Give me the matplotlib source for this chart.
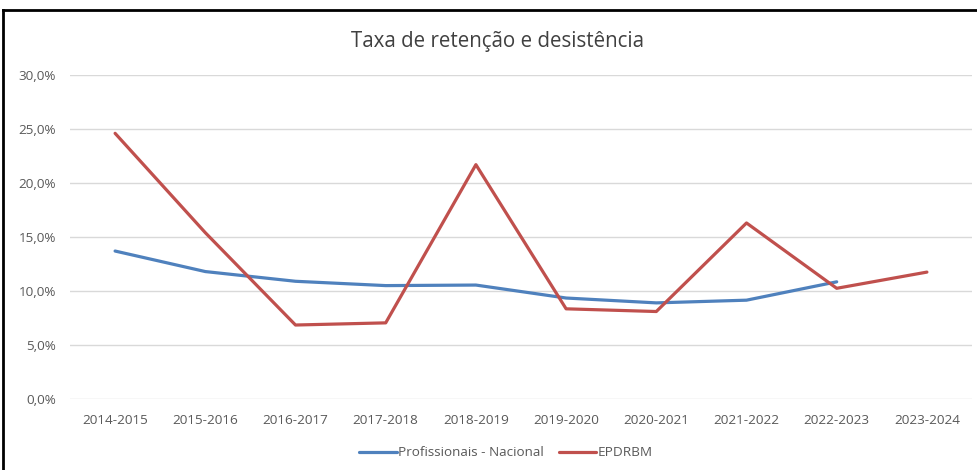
import matplotlib.pyplot as plt
from matplotlib.ticker import FuncFormatter

anos = ['2014-2015', '2015-2016', '2016-2017', '2017-2018', '2018-2019',
        '2019-2020', '2020-2021', '2021-2022', '2022-2023', '2023-2024']
nacional = [13.7, 11.8, 10.9, 10.5, 10.55, 9.35, 8.9, 9.15, 10.85]
epdrbm = [24.6, 15.4, 6.85, 7.05, 21.7, 8.35, 8.1, 16.3, 10.25, 11.75]

plt.rcParams['font.family'] = ['Open Sans', 'DejaVu Sans']

fig = plt.figure(figsize=(9.78, 4.70), dpi=100)
ax = fig.add_axes([70/978, 1 - 399/470, 902/978, 324/470])

x = list(range(len(anos)))
ax.plot(x[:len(nacional)], [v / 100 for v in nacional], color='#4F81BD', lw=2.3,
        label='Profissionais - Nacional', solid_capstyle='round')
ax.plot(x, [v / 100 for v in epdrbm], color='#C0504D', lw=2.3,
        label='EPDRBM', solid_capstyle='round')

ax.set_xlim(-0.5, len(anos) - 0.5)
ax.set_ylim(0, 0.30)
ax.set_yticks([0, 0.05, 0.10, 0.15, 0.20, 0.25, 0.30])
ax.yaxis.set_major_formatter(FuncFormatter(lambda v, p: f'{v*100:.1f}%'.replace('.', ',')))
ax.set_xticks(x)
ax.set_xticklabels(anos)
ax.tick_params(length=0, labelsize=9.7, colors='#595959')
ax.tick_params(axis='x', pad=11)
ax.tick_params(axis='y', pad=10)
ax.grid(axis='y', color='#D9D9D9', lw=1)
ax.set_axisbelow(True)
for s in ax.spines.values():
    s.set_visible(False)

fig.text(498/978, 1 - 41/470, 'Taxa de retenção e desistência', ha='center', va='center',
         fontsize=14.8, color='#404040')

fig.legend(loc='center', bbox_to_anchor=(506/978, 1 - 453/470), ncol=2, frameon=False,
           fontsize=9.7, handlelength=2.8, handletextpad=0.1, columnspacing=1.1,
           labelcolor='#595959')

# moldura
fig.add_artist(plt.Line2D([3/978, 3/978], [0, 1 - 10/470], color='black', lw=2,
                          transform=fig.transFigure))
fig.add_artist(plt.Line2D([3/978, 1], [1 - 10/470, 1 - 10/470], color='black', lw=2,
                          transform=fig.transFigure))

fig.savefig('out.png', dpi=100)
